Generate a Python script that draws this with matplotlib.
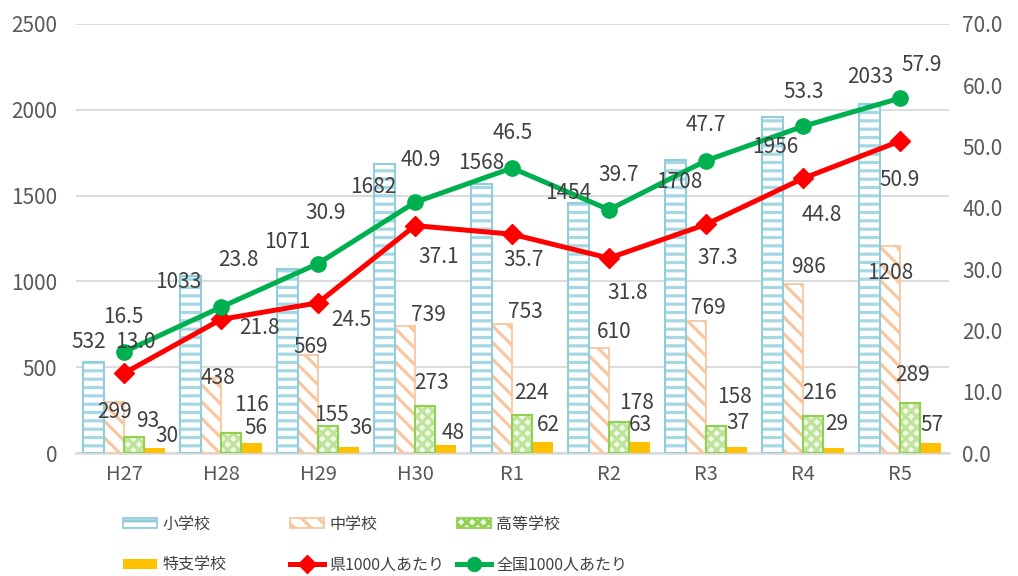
import matplotlib
matplotlib.use('Agg')
import matplotlib.pyplot as plt
import numpy as np
from matplotlib.patches import Patch
from matplotlib.lines import Line2D

# ---------------- data ----------------
categories = ['H27', 'H28', 'H29', 'H30', 'R1', 'R2', 'R3', 'R4', 'R5']
elementary = [532, 1033, 1071, 1682, 1568, 1454, 1708, 1956, 2033]
junior = [299, 438, 569, 739, 753, 610, 769, 986, 1208]
high = [93, 116, 155, 273, 224, 178, 158, 216, 289]
special = [30, 56, 36, 48, 62, 63, 37, 29, 57]
pref_rate = [13.0, 21.8, 24.5, 37.1, 35.7, 31.8, 37.3, 44.8, 50.9]
national_rate = [16.5, 23.8, 30.9, 40.9, 46.5, 39.7, 47.7, 53.3, 57.9]
series_names = ['小学校', '中学校', '高等学校', '特支学校', '県1000人あたり', '全国1000人あたり']
left_ticks = [0, 500, 1000, 1500, 2000, 2500]
right_ticks = [0, 10, 20, 30, 40, 50, 60, 70]

# label offsets (pixels) for data labels, mimicking the reference placement
elem_off = [(-5, 20), (-12, -6), (0, 27), (-11, -23), (0, 21), (-10, 10), (4, -22), (3, -30), (1, 27)]
jun_off = [(1, -10), (7, 0), (3, 8), (24, 11), (24, 12), (15, 16), (13, 13), (16, 17), (0, -27)]
high_off = [(14, 16), (20, 28), (3, 11), (6, 23), (9, 22), (17, 19), (18, 29), (6, 23), (2, 28)]
spec_off = [(12, 12), (4, 15), (12, 19), (8, 12), (6, 17), (1, 17), (1, 24), (3, 24), (1, 18)]
pref_off = [(11, 31), (38, -9), (33, -17), (24, -31), (12, -26), (19, -35), (12, -34), (19, -37), (0, -39)]
nat_off = [(-1, 35), (17, 47), (8, 51), (6, 42), (1, 35), (10, 35), (0, 36), (1, 34), (22, 33)]

# ---------------- style ----------------
plt.rcParams['font.family'] = ['Noto Sans CJK JP', 'DejaVu Sans']
plt.rcParams['hatch.linewidth'] = 2.3
TXT = '#404040'
TICK = '#595959'
C_ELEM = '#92CDDC'
C_ELEM_H = '#A6D8E4'
C_JUN = '#F9C79F'
C_HIGH = '#92D050'
C_HIGH_H = '#BFE39A'
C_SPEC = '#FFC000'
C_PREF = '#FF0000'
C_NAT = '#00B050'
FS = 15

fig = plt.figure(figsize=(10.18, 5.76), dpi=100)
ax = fig.add_axes([75.5 / 1018, 1 - 453 / 576, 873 / 1018, (453 - 24) / 576])
ax2 = ax.twinx()

x = np.arange(len(categories))
w = 0.21

# hatched fills (lighter pattern colour), then outlines on top
ax.bar(x - 1.5 * w, elementary, w, facecolor='white', edgecolor=C_ELEM_H, hatch='--', linewidth=0, zorder=3)
ax.bar(x - 1.5 * w, elementary, w, facecolor='none', edgecolor=C_ELEM, linewidth=1.5, zorder=3.1)
ax.bar(x - 0.5 * w, junior, w, facecolor='white', edgecolor=C_JUN, hatch='\\\\', linewidth=1.3, zorder=3)
ax.bar(x + 0.5 * w, high, w, facecolor='#F1F9E8', edgecolor=C_HIGH_H, hatch='xxx', linewidth=0, zorder=3)
ax.bar(x + 0.5 * w, high, w, facecolor='none', edgecolor=C_HIGH, linewidth=1.5, zorder=3.1)
ax.bar(x + 1.5 * w, special, w, facecolor=C_SPEC, edgecolor='none', zorder=3)

ax.set_xlim(-0.5, len(categories) - 0.5)
ax.set_ylim(0, 2500)
ax.set_yticks(left_ticks)
ax.set_yticklabels([str(t) for t in left_ticks])
ax.set_xticks(x)
ax.set_xticklabels(categories)
ax.grid(axis='y', color='#D9D9D9', linewidth=1.3, zorder=0)
ax.set_axisbelow(True)
for s in ('left', 'right', 'top'):
    ax.spines[s].set_visible(False)
ax.spines['bottom'].set_color('#D9D9D9')
ax.spines['bottom'].set_linewidth(1.8)
ax.tick_params(axis='y', length=0, pad=13, labelsize=FS, labelcolor=TICK)
ax.tick_params(axis='x', length=0, pad=8, labelsize=FS - 0.5, labelcolor=TICK)

ax2.plot(x, pref_rate, color=C_PREF, linewidth=3.6, marker='D', markersize=10, zorder=4)
ax2.plot(x, national_rate, color=C_NAT, linewidth=3.6, marker='o', markersize=11, zorder=5)
ax2.set_ylim(0, 70)
ax2.set_yticks(right_ticks)
ax2.set_yticklabels([f'{t:.1f}' for t in right_ticks])
for s in ('left', 'right', 'top', 'bottom'):
    ax2.spines[s].set_visible(False)
ax2.tick_params(axis='y', length=0, pad=10, labelsize=FS, labelcolor=TICK)

# data labels
def put(axis, xs, ys, offs, fmt):
    for xi, yi, (dx, dy) in zip(xs, ys, offs):
        axis.annotate(fmt(yi), (xi, yi), xytext=(dx, dy), textcoords='offset pixels',
                      ha='center', va='center', fontsize=FS, color=TXT, zorder=10)

scale = 70 / 2500
put(ax2, x - 1.5 * w, np.array(elementary) * scale, elem_off, lambda v: f'{round(v / scale):d}')
put(ax2, x - 0.5 * w, np.array(junior) * scale, jun_off, lambda v: f'{round(v / scale):d}')
put(ax2, x + 0.5 * w, np.array(high) * scale, high_off, lambda v: f'{round(v / scale):d}')
put(ax2, x + 1.5 * w, np.array(special) * scale, spec_off, lambda v: f'{round(v / scale):d}')
put(ax2, x, pref_rate, pref_off, lambda v: f'{v:.1f}')
put(ax2, x, national_rate, nat_off, lambda v: f'{v:.1f}')

# legend: six single-entry legends at reference positions
handles = [
    Patch(facecolor='white', edgecolor=C_ELEM, hatch='--', linewidth=1.3),
    Patch(facecolor='white', edgecolor=C_JUN, hatch='\\\\', linewidth=1.3),
    Patch(facecolor='#F1F9E8', edgecolor=C_HIGH, hatch='xxx', linewidth=1.3),
    Patch(facecolor=C_SPEC, edgecolor='none'),
    Line2D([], [], color=C_PREF, linewidth=3.6, marker='D', markersize=9),
    Line2D([], [], color=C_NAT, linewidth=3.6, marker='o', markersize=10),
]
xs_leg = [123, 290, 457, 123, 290, 457]
ys_leg = [524, 524, 524, 565, 565, 565]
for h, name, lx, ly in zip(handles, series_names, xs_leg, ys_leg):
    lg = fig.legend([h], [name], loc='center left', bbox_to_anchor=(lx / 1018, 1 - ly / 576),
                    frameon=False, borderpad=0, borderaxespad=0, handlelength=2.15,
                    handleheight=0.65, handletextpad=0.3, fontsize=11.5)
    for t in lg.get_texts():
        t.set_color(TXT)

fig.savefig('out.png', dpi=100)
